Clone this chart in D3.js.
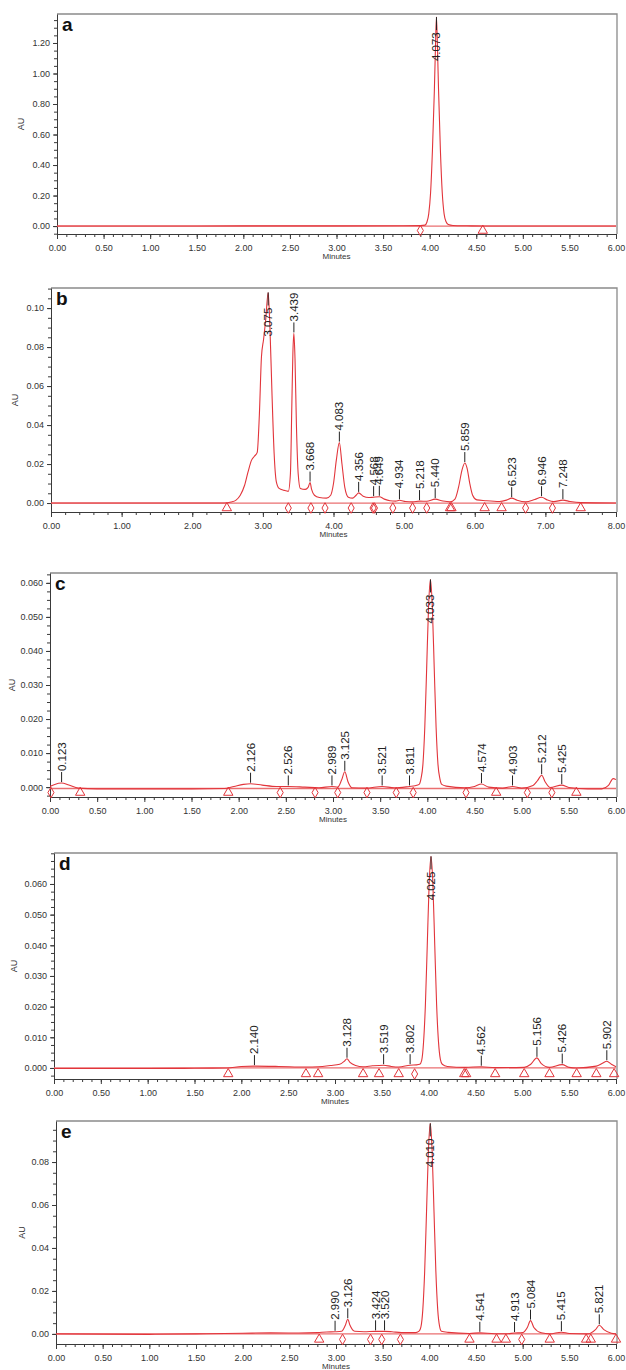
<!DOCTYPE html>
<meta charset="utf-8">
<html>
<head>
  <title>Chromatograms</title>
  <style type="text/css">
    body{margin:0; background:#fff;}
    text{font-family:"Liberation Sans", Arial, sans-serif;}
  </style>
</head>
<body>
  <script src="https://cdn.jsdelivr.net/npm/d3@7"></script>
  <script>
    // ---- data: [minutes, AU] ----
    var aTrace = [[0,0],[1,0],[2,0.001],[3,0.001],[3.7,0.002],[3.9,0.003],[3.95,0.006],[3.97,0.025],[3.99,0.08],[4.01,0.22],[4.03,0.5],[4.05,0.88],[4.06,1.12],[4.073,1.37],[4.085,1.14],[4.095,0.9],[4.115,0.5],[4.135,0.22],[4.155,0.08],[4.175,0.03],[4.2,0.01],[4.25,0.004],[4.4,0.002],[4.6,0.0005],[5,0],[6,0]];
    var bTrace = [[0,0],[1,0],[2,0],[2.45,0],[2.55,0.0005],[2.62,0.0015],[2.68,0.004],[2.74,0.009],[2.79,0.016],[2.84,0.022],[2.88,0.024],[2.92,0.026],[2.95,0.045],[2.98,0.075],[3.01,0.084],[3.04,0.094],[3.075,0.108],[3.1,0.09],[3.13,0.055],[3.16,0.025],[3.19,0.011],[3.23,0.0075],[3.3,0.0065],[3.36,0.006],[3.39,0.015],[3.41,0.05],[3.425,0.077],[3.439,0.087],[3.455,0.074],[3.475,0.04],[3.5,0.015],[3.53,0.0075],[3.6,0.007],[3.64,0.008],[3.668,0.0105],[3.69,0.007],[3.73,0.004],[3.8,0.0028],[3.9,0.0025],[3.96,0.004],[4,0.01],[4.04,0.022],[4.083,0.031],[4.12,0.02],[4.16,0.008],[4.21,0.003],[4.27,0.0025],[4.32,0.004],[4.356,0.0052],[4.42,0.0035],[4.5,0.0028],[4.568,0.003],[4.649,0.0032],[4.72,0.002],[4.8,0.0012],[4.88,0.001],[4.934,0.0014],[5.02,0.0008],[5.12,0.0006],[5.218,0.001],[5.32,0.0009],[5.44,0.002],[5.55,0.001],[5.65,0.0006],[5.72,0.002],[5.77,0.008],[5.82,0.017],[5.859,0.0205],[5.89,0.018],[5.93,0.01],[5.97,0.004],[6.03,0.0016],[6.15,0.0012],[6.35,0.0008],[6.45,0.0015],[6.523,0.0025],[6.6,0.0014],[6.72,0.0006],[6.85,0.0018],[6.946,0.003],[7.03,0.0015],[7.12,0.0007],[7.248,0.0015],[7.35,0.0008],[7.5,0.0002],[8,0]];
    var cTrace = [[0,0.0002],[0.05,0.0008],[0.123,0.0012],[0.2,0.0006],[0.3,-0.0003],[0.5,-0.0005],[1,-0.0005],[1.5,-0.0005],[1.85,-0.0004],[1.95,0.0002],[2.05,0.0008],[2.126,0.001],[2.25,0.0006],[2.4,0.0002],[2.526,0.0002],[2.7,0],[2.85,-0.0002],[2.989,0.0002],[3.05,0],[3.09,0.002],[3.125,0.0045],[3.16,0.0015],[3.2,-0.0002],[3.35,-0.0003],[3.521,0.0002],[3.65,-0.0002],[3.811,0.0002],[3.87,0.0004],[3.913,0.0008],[3.933,0.0025],[3.953,0.0066],[3.973,0.0175],[3.993,0.035],[4.013,0.053],[4.033,0.061],[4.053,0.053],[4.073,0.035],[4.093,0.0175],[4.113,0.0066],[4.133,0.0025],[4.153,0.0008],[4.2,0.0003],[4.4,-0.0002],[4.5,0.0002],[4.574,0.0009],[4.65,0],[4.8,-0.0003],[4.903,0.0002],[5,-0.0003],[5.12,0.0005],[5.17,0.002],[5.212,0.0035],[5.25,0.0015],[5.3,-0.0001],[5.425,0.0006],[5.5,-0.0001],[5.7,-0.0005],[5.85,-0.0005],[5.92,0.0005],[5.97,0.0025],[6,0.0022]];
    var dTrace = [[0,-0.0002],[1,-0.0002],[1.5,-0.0001],[1.85,0],[2,0.0005],[2.14,0.0006],[2.4,0.0005],[2.69,0.0003],[2.82,0.0004],[2.95,0.0008],[3.05,0.0012],[3.1,0.0022],[3.128,0.003],[3.16,0.0018],[3.22,0.0008],[3.3,0.0004],[3.4,0.0007],[3.519,0.0009],[3.6,0.0005],[3.68,0.0003],[3.802,0.0009],[3.87,0.001],[3.905,0.0012],[3.925,0.0024],[3.945,0.0082],[3.965,0.0205],[3.985,0.04],[4.005,0.06],[4.025,0.069],[4.045,0.06],[4.065,0.04],[4.085,0.0205],[4.105,0.0085],[4.125,0.0028],[4.145,0.0012],[4.2,0.0005],[4.39,0.0002],[4.562,0.0004],[4.71,0.0001],[5.02,0.0002],[5.09,0.0012],[5.156,0.0033],[5.2,0.0015],[5.29,0.0002],[5.426,0.0011],[5.5,0.0002],[5.58,0],[5.79,0.0006],[5.86,0.0016],[5.902,0.0022],[5.95,0.0012],[6,0.0004]];
    var eTrace = [[0,0],[1,-0.0002],[1.5,0],[2,0.0003],[2.3,0.0005],[2.6,0.0004],[2.8,0.0006],[2.9,0.0009],[2.99,0.001],[3.06,0.0012],[3.1,0.004],[3.126,0.0068],[3.15,0.004],[3.2,0.0012],[3.3,0.001],[3.424,0.0012],[3.52,0.0012],[3.6,0.001],[3.7,0.0006],[3.85,0.0006],[3.89,0.0013],[3.91,0.0033],[3.93,0.0112],[3.95,0.029],[3.97,0.057],[3.99,0.085],[4.01,0.098],[4.03,0.085],[4.05,0.057],[4.07,0.029],[4.09,0.0112],[4.11,0.0035],[4.13,0.0012],[4.2,0.0007],[4.43,0.0002],[4.541,0.0005],[4.7,0.0001],[4.82,0.0001],[4.913,0.0004],[5,0.0006],[5.05,0.003],[5.084,0.0062],[5.12,0.003],[5.2,0.0005],[5.29,0],[5.415,0.0008],[5.5,0.0002],[5.7,0],[5.78,0.002],[5.821,0.004],[5.87,0.002],[5.95,0.0003],[6,0]];

    // peak retention times (labels) and apex heights
    var aPeakTimes = [4.073];
    var aPeakHeights = [1.37];
    var bPeakTimes = [3.075,3.439,3.668,4.083,4.356,4.568,4.649,4.934,5.218,5.440,5.859,6.523,6.946,7.248];
    var bPeakHeights = [0.108,0.087,0.0105,0.031,0.0052,0.003,0.0032,0.0014,0.001,0.002,0.0205,0.0025,0.003,0.0015];
    var cPeakTimes = [0.123,2.126,2.526,2.989,3.125,3.521,3.811,4.033,4.574,4.903,5.212,5.425];
    var cPeakHeights = [0.0012,0.001,0.0002,0.0002,0.0045,0.0002,0.0002,0.061,0.0009,0.0002,0.0035,0.0006];
    var dPeakTimes = [2.140,3.128,3.519,3.802,4.025,4.562,5.156,5.426,5.902];
    var dPeakHeights = [0.0006,0.003,0.0009,0.0009,0.069,0.0004,0.0033,0.0011,0.0022];
    var ePeakTimes = [2.990,3.126,3.424,3.520,4.010,4.541,4.913,5.084,5.415,5.821];
    var ePeakHeights = [0.001,0.0068,0.0012,0.0012,0.098,0.0005,0.0004,0.0062,0.0008,0.004];

    // integration marks (minutes)
    var aTriangles = [4.57], aDiamonds = [3.90];
    var bTriangles = [2.49,5.65,5.67,6.14,6.38,7.50];
    var bDiamonds = [3.36,3.68,3.88,4.25,4.56,4.58,4.84,5.12,5.32,6.72,7.10];
    var cTriangles = [0.32,1.89,4.73,5.58];
    var cDiamonds = [0.01,2.44,2.81,3.05,3.36,3.67,3.85,4.41,5.06,5.32];
    var dTriangles = [1.86,2.69,2.82,3.30,3.47,3.68,4.38,4.40,4.71,5.02,5.29,5.58,5.79,5.98];
    var dDiamonds = [3.85];
    var eTriangles = [2.82,4.43,4.72,4.82,5.29,5.68,5.73,6.0];
    var eDiamonds = [3.07,3.37,3.49,3.69,4.99];

    var baselines = [0, 0, -0.0004, 0, 0];

    // axis ticks
    var xTicks6 = d3.range(0, 6.01, 0.5), xMinor6 = d3.range(0, 6.01, 0.1);
    var xTicks8 = d3.range(0, 8.01, 1), xMinor8 = d3.range(0, 8.01, 0.2);
    var aYTicks = [0,0.2,0.4,0.6,0.8,1.0,1.2];
    var bYTicks = [0,0.02,0.04,0.06,0.08,0.10];
    var cYTicks = [0,0.01,0.02,0.03,0.04,0.05,0.06];
    var dYTicks = [0,0.01,0.02,0.03,0.04,0.05,0.06];
    var eYTicks = [0,0.02,0.04,0.06,0.08];

    var panels = [
      {id:'a', trace:aTrace, pt:aPeakTimes, ph:aPeakHeights, tri:aTriangles, dia:aDiamonds, base:baselines[0],
       xMax:6, xt:xTicks6, xm:xMinor6, yt:aYTicks, ym:0.05, fmt:'.2f',
       left:57, right:616, top:14, bottom:234, yDom:[-0.052,1.39], auX:24},
      {id:'b', trace:bTrace, pt:bPeakTimes, ph:bPeakHeights, tri:bTriangles, dia:bDiamonds, base:baselines[1],
       xMax:8, xt:xTicks8, xm:xMinor8, yt:bYTicks, ym:0.005, fmt:'.2f',
       left:51, right:616, top:288, bottom:512, yDom:[-0.0046,0.1103], auX:18},
      {id:'c', trace:cTrace, pt:cPeakTimes, ph:cPeakHeights, tri:cTriangles, dia:cDiamonds, base:baselines[2],
       xMax:6, xt:xTicks6, xm:xMinor6, yt:cYTicks, ym:0.0025, fmt:'.3f',
       left:50, right:616, top:573, bottom:797, yDom:[-0.0029,0.0629], auX:15},
      {id:'d', trace:dTrace, pt:dPeakTimes, ph:dPeakHeights, tri:dTriangles, dia:dDiamonds, base:baselines[3],
       xMax:6, xt:xTicks6, xm:xMinor6, yt:dYTicks, ym:0.0025, fmt:'.3f',
       left:54, right:616, top:853, bottom:1079, yDom:[-0.0036,0.0701], auX:17},
      {id:'e', trace:eTrace, pt:ePeakTimes, ph:ePeakHeights, tri:eTriangles, dia:eDiamonds, base:baselines[4],
       xMax:6, xt:xTicks6, xm:xMinor6, yt:eYTicks, ym:0.005, fmt:'.2f',
       left:56, right:616, top:1121, bottom:1344, yDom:[-0.0047,0.0991], auX:25}
    ];

    var width = 626,
        height = 1370,
        red = '#e2353b';

    var svg = d3.select('body')
        .append('svg')
        .attr('width', width)
        .attr('height', height);

    panels.forEach(function(p){
      var x = d3.scaleLinear().domain([0, p.xMax]).range([p.left, p.right]);
      var y = d3.scaleLinear().domain(p.yDom).range([p.bottom, p.top]);
      var g = svg.append('g');

      g.append('clipPath').attr('id', 'clip-' + p.id)
        .append('rect')
        .attr('x', p.left).attr('y', p.top)
        .attr('width', p.right - p.left + 1).attr('height', p.bottom - p.top);

      // box top / right
      g.append('path')
        .attr('d', 'M' + p.left + ',' + p.top + 'H' + (p.right + 1) + 'V' + p.bottom)
        .attr('fill', 'none').attr('stroke', '#8a8a8a').attr('stroke-width', 1.3);

      // minor ticks
      g.append('g').attr('transform', 'translate(0,' + p.bottom + ')')
        .call(d3.axisBottom(x).tickValues(p.xm).tickFormat('').tickSize(3).tickSizeOuter(0))
        .call(function(s){ s.select('.domain').remove(); });
      var ym = d3.range(p.yt[0], p.yDom[1], p.ym).concat(d3.range(-p.ym, p.yDom[0], -p.ym));
      g.append('g').attr('transform', 'translate(' + p.left + ',0)')
        .call(d3.axisLeft(y).tickValues(ym).tickFormat('').tickSize(3).tickSizeOuter(0))
        .call(function(s){ s.select('.domain').remove(); });

      // major axes
      var xa = g.append('g').attr('transform', 'translate(0,' + p.bottom + ')')
        .call(d3.axisBottom(x).tickValues(p.xt).tickFormat(d3.format('.2f')).tickSize(5).tickSizeOuter(0));
      var ya = g.append('g').attr('transform', 'translate(' + p.left + ',0)')
        .call(d3.axisLeft(y).tickValues(p.yt).tickFormat(d3.format(p.fmt)).tickSize(4).tickSizeOuter(0));
      [xa, ya].forEach(function(a){
        a.selectAll('.domain, line').attr('stroke', '#3a3a3a');
        a.selectAll('text').attr('font-size', 9).attr('fill', '#333')
          .style('font-family', '"Liberation Sans", Arial, sans-serif');
      });
      g.selectAll('.tick line').attr('stroke', '#3a3a3a');
      xa.selectAll('text').attr('dy', '0.95em');

      // axis titles
      g.append('text')
        .attr('x', (p.left + p.right) / 2).attr('y', p.bottom + 25)
        .attr('text-anchor', 'middle').attr('font-size', 8).attr('fill', '#333')
        .text('Minutes');
      g.append('text')
        .attr('transform', 'translate(' + p.auX + ',' + ((p.top + p.bottom) / 2) + ') rotate(-90)')
        .attr('text-anchor', 'middle').attr('font-size', 9).attr('fill', '#333')
        .text('AU');

      // baseline + trace
      var plot = g.append('g').attr('clip-path', 'url(#clip-' + p.id + ')');
      plot.append('line')
        .attr('x1', x(0)).attr('x2', x(p.xMax))
        .attr('y1', y(p.base)).attr('y2', y(p.base))
        .attr('stroke', '#ea6f70').attr('stroke-width', 1.3);
      plot.append('path')
        .datum(p.trace)
        .attr('d', d3.line().x(function(d){return x(d[0])}).y(function(d){return y(d[1])}).curve(d3.curveMonotoneX))
        .attr('fill', 'none').attr('stroke', red).attr('stroke-width', 1.1);

      // integration marks
      var my = (y(0) + p.bottom) / 2 + 0.5;
      g.selectAll('.tri').data(p.tri).enter().append('path')
        .attr('d', d3.symbol(d3.symbolTriangle, 38))
        .attr('transform', function(d){return 'translate(' + x(d) + ',' + my + ')'})
        .attr('fill', 'none').attr('stroke', red).attr('stroke-width', 1);
      g.selectAll('.dia').data(p.dia).enter().append('path')
        .attr('d', d3.symbol(d3.symbolDiamond, 32))
        .attr('transform', function(d){return 'translate(' + x(d) + ',' + my + ')'})
        .attr('fill', 'none').attr('stroke', red).attr('stroke-width', 1);

      // peak labels
      var txtLen = 30;
      p.pt.forEach(function(t, i){
        var ax = x(t), ay = y(p.ph[i]), start, l1, l2;
        if(ay - 12 - txtLen < p.top + 1){
          start = Math.max(ay, p.top) + 14 + txtLen;
          l1 = Math.max(ay, p.top); l2 = start - txtLen - 1;
        } else {
          start = ay - 12;
          l1 = ay - 1; l2 = ay - 11;
        }
        g.append('line')
          .attr('x1', ax).attr('x2', ax).attr('y1', l1).attr('y2', l2)
          .attr('stroke', '#222').attr('stroke-width', 1);
        g.append('text')
          .attr('transform', 'translate(' + ax + ',' + start + ') rotate(-90)')
          .attr('dy', '0.35em').attr('font-size', 11.5).attr('fill', '#222')
          .text(d3.format('.3f')(t));
      });

      // panel letter
      g.append('text')
        .attr('x', p.left + 5).attr('y', p.top + 17)
        .attr('font-size', 19).attr('font-weight', 'bold').attr('fill', '#111')
        .text(p.id);
    });
  </script>
</body>
</html>
